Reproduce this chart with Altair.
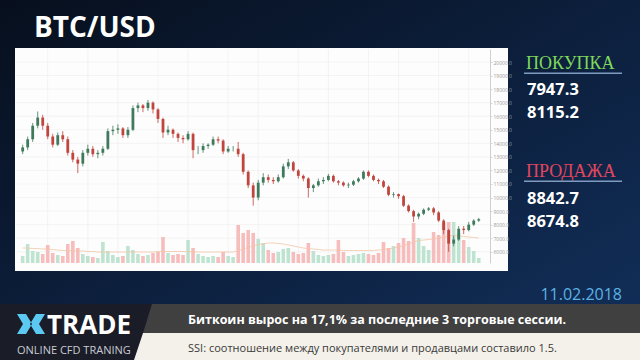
import altair as alt
import pandas as pd

# ---------------- data (12-hour candles) ----------------
opens = [13400, 13700, 14300, 15300, 15900, 15300, 14500, 13900, 14600, 14300,
         13300, 12800, 12500, 13300, 13600, 13200, 13300, 13600, 14900, 15000,
         15100, 14600, 15000, 16600, 16800, 16600, 17000, 16500, 15800, 14800,
         15000, 14700, 14400, 14300, 14700, 13500, 13500, 13800, 13900, 14300,
         14200, 13400, 13600, 13600, 13200, 11900, 10900, 10000, 11100, 11500,
         11300, 11200, 11500, 12300, 12600, 12000, 11600, 11400, 10700, 10900,
         11200, 11300, 11600, 11200, 11100, 10900, 10950, 11200, 11400, 11900,
         11600, 11300, 11200, 10800, 10200, 10250, 10100, 9400, 9000, 8600,
         8800, 9100, 9200, 8900, 8300, 7600, 6600, 6900, 7700, 7600,
         8000, 8300]
highs = [13900, 14500, 15500, 16350, 16100, 15500, 14700, 14800, 14900, 14500,
         13500, 13000, 13500, 13900, 13800, 13500, 13800, 15100, 15300, 15400,
         15200, 15200, 16800, 17000, 16900, 17200, 17100, 16600, 15900, 15300,
         15100, 14800, 14600, 14900, 14800, 13800, 14000, 14000, 14500, 14500,
         14300, 13800, 13800, 14100, 13300, 12000, 11100, 11300, 11800, 11700,
         11500, 11700, 12500, 12850, 12700, 12100, 11700, 11500, 11000, 11400,
         11500, 11750, 11700, 11300, 11200, 11100, 11300, 11500, 12000, 12000,
         11700, 11400, 11300, 10900, 10400, 10300, 10200, 9500, 9100, 8900,
         9200, 9300, 9300, 9000, 8400, 7700, 7200, 7900, 7900, 8200,
         8400, 8500]
lows = [13200, 13500, 14100, 15100, 15000, 14300, 13700, 13800, 14100, 13100,
        12600, 11800, 12300, 13100, 13000, 12900, 13100, 13500, 14600, 14700,
        14400, 14400, 14900, 16300, 16300, 16400, 16200, 15500, 14400, 14600,
        14400, 14100, 14000, 14200, 12900, 13200, 13300, 13600, 13800, 14000,
        13200, 13300, 13400, 13000, 11700, 10700, 9400, 9800, 10900, 11100,
        11000, 11100, 11400, 12100, 11900, 11400, 11200, 10000, 10400, 10800,
        11000, 11200, 11100, 10900, 10800, 10700, 10850, 11100, 11300, 11500,
        11200, 11000, 10700, 10100, 10000, 9900, 9300, 8900, 8200, 8400,
        8700, 9000, 8700, 8200, 7300, 6000, 6400, 6800, 7300, 7500,
        7900, 8200]
closes = [13700, 14300, 15300, 15900, 15300, 14500, 13900, 14600, 14300, 13300,
          12800, 12500, 13300, 13600, 13200, 13300, 13600, 14900, 15000, 15100,
          14600, 15000, 16600, 16800, 16600, 17000, 16500, 15800, 14800, 15000,
          14700, 14400, 14300, 14700, 13500, 13500, 13800, 13900, 14300, 14200,
          13400, 13600, 13600, 13200, 11900, 10900, 10000, 11100, 11500, 11300,
          11200, 11500, 12300, 12600, 12000, 11600, 11400, 10700, 10900, 11200,
          11300, 11600, 11200, 11100, 10900, 10950, 11200, 11400, 11900, 11600,
          11300, 11200, 10800, 10200, 10250, 10100, 9400, 9000, 8600, 8800,
          9100, 9200, 8900, 8300, 7600, 6600, 6900, 7700, 7600, 8000,
          8300, 8400]
volumes = [14, 38, 24, 22, 18, 36, 20, 16, 14, 38, 44, 30, 18, 14, 12, 10, 42, 24, 16, 12,
           14, 34, 26, 18, 14, 16, 20, 22, 52, 20, 16, 18, 16, 46, 30, 18, 14, 12, 14, 12,
           22, 14, 12, 76, 60, 66, 60, 48, 40, 26, 20, 22, 28, 30, 22, 18, 20, 40, 24, 16,
           14, 16, 18, 46, 22, 14, 16, 18, 20, 18, 16, 20, 42, 30, 34, 40, 50, 44, 80, 50,
           34, 26, 62, 56, 80, 82, 82, 60, 46, 32, 24, 10]
vol_ma = [30, 30, 29, 29, 28, 28, 27, 26, 25,
          25, 25, 24, 24, 23, 23, 22, 22, 22, 22, 22, 22,
          22, 22, 22, 22, 22, 22, 23, 23, 23, 23, 23, 23, 23, 22, 22, 22, 22, 22, 22, 22, 22, 22,
          25, 28, 31, 34, 37, 38, 40, 40,
          39, 38, 36, 34, 32, 30, 29, 28, 27, 26,
          26, 26, 26, 25, 25, 25, 25, 25, 25, 25, 26, 27, 28, 30, 32,
          35, 38, 42, 45, 46, 47, 48, 50, 52, 54, 55, 54, 53, 52, 51, 50]
times = pd.date_range("2017-12-25 12:00", periods=len(closes), freq="12h")

price_ticks = list(range(6000, 21000, 1000))
date_ticks = [(2017, 12, 28), (2018, 1, 1), (2018, 1, 4), (2018, 1, 8), (2018, 1, 11),
              (2018, 1, 15), (2018, 1, 18), (2018, 1, 22), (2018, 1, 25), (2018, 1, 29),
              (2018, 2, 1), (2018, 2, 5), (2018, 2, 8)]

buy_prices = ["7947.3", "8115.2"]
sell_prices = ["8842.7", "8674.8"]

df = pd.DataFrame({"t": times.strftime("%Y-%m-%dT%H:%M:%S"), "o": opens, "h": highs,
                   "l": lows, "c": closes, "v": volumes, "ma": vol_ma})
df["up"] = df["c"] >= df["o"]
grid_x = pd.DataFrame({"t": [f"{y:04d}-{m:02d}-{d:02d}T00:00:00" for y, m, d in date_ticks]})
grid_y = pd.DataFrame({"p": price_ticks})

# ---------------- layout ----------------
W, H = 474, 214
OX, OY = 16, 49   # plot origin in the 640x360 frame

xs = alt.Scale(domain=[alt.DateTime(year=2017, month=12, date=25, hours=8),
                       alt.DateTime(year=2018, month=2, date=9, hours=15)])
ys = alt.Scale(domain=[5170, 20960], nice=False, zero=False)
vs = alt.Scale(domain=[0, 100], range=[H, H - 50])

one = alt.Data(values=[{}])
UP, DOWN = "#3f7a5c", "#c0453e"


def rx(X):
    return X - OX


def ry(Y):
    return Y - OY


def rect(x, x2, y, y2, color):
    return alt.Chart(one).mark_rect(color=color).encode(
        x=alt.value(rx(x)), x2=alt.value(rx(x2)), y=alt.value(ry(y)), y2=alt.value(ry(y2)))


def text(s, x, y, size, color, weight="normal", font="Open Sans", align="left", baseline="alphabetic"):
    return alt.Chart(one).mark_text(text=s, fontSize=size, color=color, fontWeight=weight, font=font,
                                    align=align, baseline=baseline).encode(
        x=alt.value(rx(x)), y=alt.value(ry(y)))


def shape(path, x, y, color):
    return alt.Chart(one).mark_point(shape=path, size=4, filled=True, fill=color, opacity=1,
                                     strokeWidth=0).encode(x=alt.value(rx(x)), y=alt.value(ry(y)))


bg = alt.Chart(one).mark_rect(color={
    "gradient": "linear", "x1": 0, "y1": 0, "x2": 1, "y2": 1,
    "stops": [{"offset": 0, "color": "#070f1d"}, {"offset": 0.55, "color": "#0d2140"},
              {"offset": 1, "color": "#12305c"}]}).encode(
    x=alt.value(rx(0)), x2=alt.value(rx(640)), y=alt.value(ry(0)), y2=alt.value(ry(360)))

panel = rect(15, 508, 48, 271, "#fdfdfd")

grid_v = alt.Chart(grid_x).mark_rule(color="#efefef", strokeWidth=0.7).encode(
    x=alt.X("t:T", scale=xs, axis=None))
grid_h = alt.Chart(grid_y).mark_rule(color="#efefef", strokeWidth=0.7).encode(
    y=alt.Y("p:Q", scale=ys, axis=None))

base = alt.Chart(df)
vol_bars = base.mark_bar(size=3.6, opacity=0.85).encode(
    x=alt.X("t:T", scale=xs, axis=None),
    y=alt.Y("v:Q", scale=vs, axis=None),
    color=alt.condition("datum.up", alt.value("#b3dfc9"), alt.value("#f6b0b0")))
vol_line = base.mark_line(color="#f3c7a6", strokeWidth=0.8).encode(
    x=alt.X("t:T", scale=xs, axis=None),
    y=alt.Y("ma:Q", scale=vs, axis=None))

wicks = base.mark_rule(strokeWidth=0.8).encode(
    x=alt.X("t:T", scale=xs, axis=None),
    y=alt.Y("l:Q", scale=ys, axis=None), y2="h:Q",
    color=alt.condition("datum.up", alt.value(UP), alt.value(DOWN)))

label_expr = ("date(datum.value) == 1 ? (month(datum.value) == 0 ? '2018' : "
              "timeFormat(datum.value, '%b')) : '' + date(datum.value)")
bodies = base.mark_bar(size=2.8).encode(
    x=alt.X("t:T", scale=xs, axis=alt.Axis(
        values=[alt.DateTime(year=y, month=m, date=d) for y, m, d in date_ticks],
        labelExpr=label_expr, title=None, grid=False, labelFontSize=5, labelColor="#9a9a9a",
        labelFont="Open Sans", domainColor="#d9d9d9", tickColor="#d9d9d9", tickSize=2,
        labelPadding=1, labelOverlap=False, zindex=1)),
    y=alt.Y("o:Q", scale=ys, axis=alt.Axis(
        orient="right", values=price_ticks, format=".1f", title=None, grid=False,
        labelFontSize=5, labelColor="#9a9a9a", labelFont="Open Sans", domainColor="#cfcfcf",
        tickColor="#d9d9d9", tickSize=2, labelPadding=1, labelOverlap=False, zindex=1)),
    y2="c:Q",
    color=alt.condition("datum.up", alt.value(UP), alt.value(DOWN)))

title = text("BTC/USD", 34, 37, 28, "#ffffff", weight="bold")

buy_head = text("ПОКУПКА", 526, 68.5, 18, "#7fd95a", font="Liberation Serif")
buy_line = rect(524, 622, 72.5, 74, "#7f9cc0")
buy1 = text(buy_prices[0], 527, 95, 16.5, "#ffffff", weight="bold")
buy2 = text(buy_prices[1], 527, 117.5, 16.5, "#ffffff", weight="bold")
sell_head = text("ПРОДАЖА", 526, 176.5, 18, "#e2465e", font="Liberation Serif")
sell_line = rect(524, 622, 180.5, 182, "#7f9cc0")
sell1 = text(sell_prices[0], 527, 203.5, 16.5, "#ffffff", weight="bold")
sell2 = text(sell_prices[1], 527, 226.5, 16.5, "#ffffff", weight="bold")

date_txt = text("11.02.2018", 622, 300, 16, "#5cb2e4", align="right")

band = rect(0, 640, 304, 360, "#1a1c28")
gray = shape("M0,0L488,0L488,29L-9,29Z", 152, 304, "#404040")
cream = shape("M0,0L497,0L497,27L-9,27Z", 143, 333, "#f3f1e9")
msg1 = text("Биткоин вырос на 17,1% за последние 3 торговые сессии.", 188, 320, 12.5,
            "#ffffff", weight="bold", baseline="middle")
msg2 = text("SSI: соотношение между покупателями и продавцами составило 1.5.", 188, 349, 11,
            "#3a3a3a", baseline="middle")
logo_x = shape("M0,0L9,0L15,10L9,20L0,20L6,10Z M28,0L19,0L13,10L19,20L28,20L22,10Z",
               17, 314, "#5bc9f2")
logo_t = text("TRADE", 47, 334, 26, "#ffffff", weight="bold")
logo_sub = text("ONLINE CFD TRANING", 17, 354, 11, "#c9ccd3")

chart = alt.layer(
    bg, band, gray, cream, panel, grid_v, grid_h, vol_bars, vol_line, wicks, bodies,
    title, buy_head, buy_line, buy1, buy2, sell_head, sell_line, sell1, sell2,
    date_txt, msg1, msg2, logo_x, logo_t, logo_sub
).resolve_scale(y="independent").properties(
    width=W, height=H,
    padding={"left": OX, "top": OY, "right": 640 - OX - W, "bottom": 360 - OY - H},
    autosize=alt.AutoSizeParams(type="none"),
    background="#0a1628",
).configure_view(stroke=None)

chart.save("out.html", embed_options={"renderer": "svg", "actions": False})
